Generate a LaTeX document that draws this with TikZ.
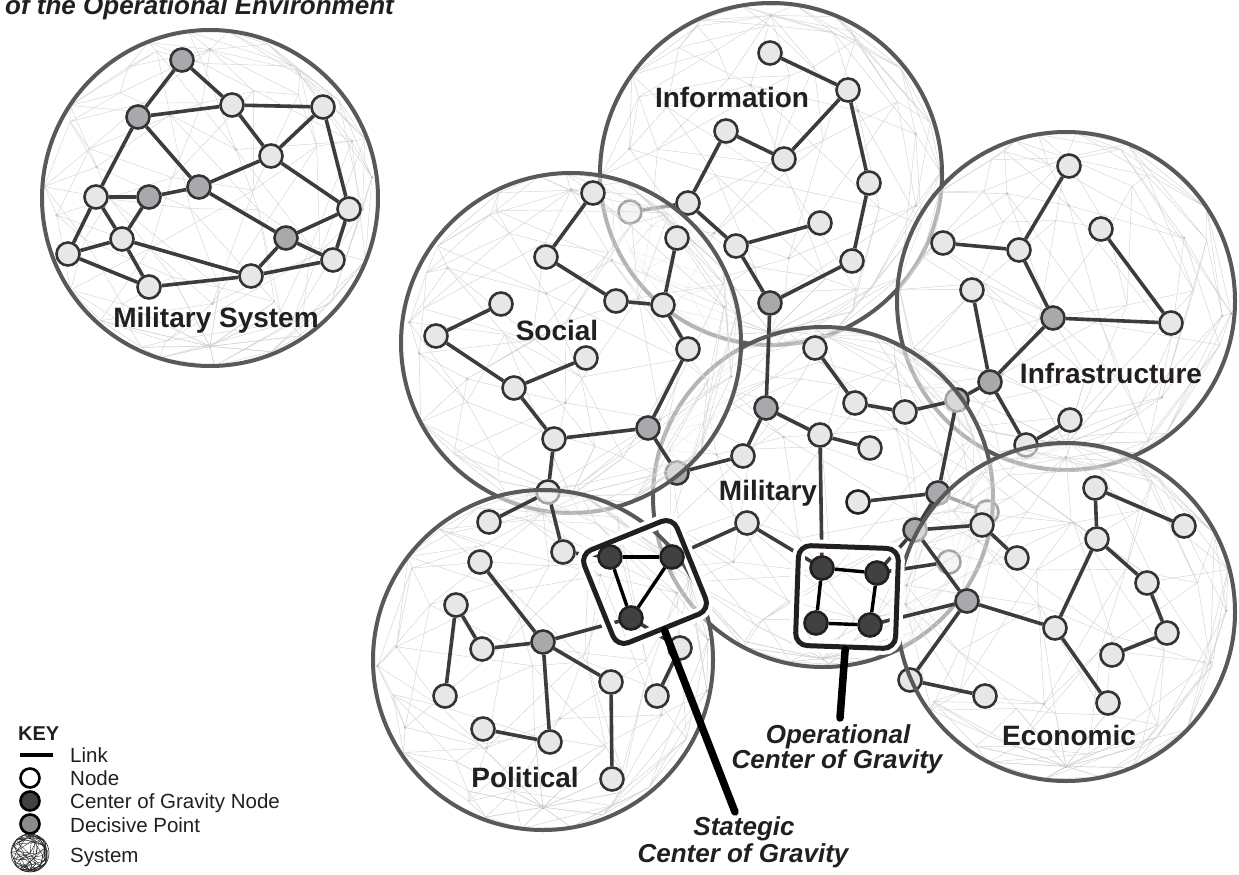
\documentclass[tikz,border=0pt]{standalone}
\usepackage{fontspec}
\setmainfont{Liberation Sans}
\definecolor{litefill}{HTML}{E6E7E8}
\definecolor{dpfill}{HTML}{A7A9AC}
\definecolor{cogfill}{HTML}{414042}
\definecolor{edgecol}{HTML}{333333}
\definecolor{linkcol}{HTML}{3C3C3C}
\definecolor{ringcol}{HTML}{58595B}
\definecolor{inkcol}{HTML}{231F20}

% wire-frame ball: centre x, centre y, radius, seed, tilt, azimuth offset
\newcommand{\meshball}[6]{%
  \pgfmathsetseed{#4}%
  \foreach \i in {0,...,6}{%
    \foreach \j in {0,...,10}{%
      \pgfmathsetmacro{\mT}{\i*30+11*rand*sin(\i*30)}%
      \pgfmathsetmacro{\mP}{\j*360/11+\i*13+#6+12*rand}%
      \pgfmathsetmacro{\mX}{#1+#3*sin(\mT)*cos(\mP)}%
      \pgfmathsetmacro{\mY}{#2+#3*(cos(\mT)*cos(#5)-sin(\mT)*sin(\mP)*sin(#5))}%
      \coordinate (q-\i-\j) at (\mX,\mY);%
      \pgfmathtruncatemacro{\mK}{mod(\i*5+\j*3,3)}%
      \ifnum\mK=0 \path[meshdot] (\mX,\mY) circle (1.5pt);\fi
    }%
  }%
  \foreach \i [evaluate=\i as \ip using {int(\i+1)}] in {0,...,5}{%
    \foreach \j [evaluate=\j as \jn using {int(mod(\j+1,11))}] in {0,...,10}{%
      \draw[meshln] (q-\i-\j) -- (q-\i-\jn) (q-\i-\j) -- (q-\ip-\j) (q-\i-\j) -- (q-\ip-\jn);%
    }%
  }%
}

\begin{document}
\begin{tikzpicture}[x=1pt,y=-1pt,
  ln/.style={circle, draw=edgecol, line width=2.6pt, fill=litefill, minimum size=23pt, inner sep=0pt},
  dn/.style={ln, fill=dpfill},
  cn/.style={ln, fill=cogfill, draw=inkcol},
  lk/.style={draw=linkcol, line width=3.6pt},
  cl/.style={draw=black, line width=3.4pt},
  ring/.style={draw=ringcol, line width=4pt},
  fader/.style={fill=white, fill opacity=0.55},
  meshln/.style={draw=black!17, line width=0.45pt},
  meshdot/.style={fill=black!32},
  syslbl/.style={font=\bfseries\fontsize{28}{30}\selectfont, text=inkcol, inner sep=0pt, anchor=base},
  coglbl/.style={font=\bfseries\itshape\fontsize{26}{28}\selectfont, text=inkcol, inner sep=0pt, anchor=base},
  keytxt/.style={font=\fontsize{20.5}{22}\selectfont, text=inkcol, inner sep=0pt, anchor=base west},
  keynode/.style={circle, draw=black, line width=2.6pt, minimum size=19pt, inner sep=0pt},
  cogbox/.style={draw=inkcol, line width=5pt, rounded corners=12pt, minimum size=100pt, inner sep=0pt},
  boxhalo/.style={draw=white, line width=13pt, rounded corners=12pt, minimum size=100pt, inner sep=0pt},
  pointer/.style={draw=black, line width=7.5pt, line cap=round}
]
\useasboundingbox (0,0) rectangle (1239,875);

% ---------- Military System (stand-alone) ----------
\meshball{210}{198}{168}{3}{28}{5}
\node[dn] (ma) at (182,60) {};
\node[ln] (mb) at (232,105) {};
\node[ln] (mc) at (323,107) {};
\node[dn] (md) at (138,117) {};
\node[ln] (me) at (271,156) {};
\node[dn] (mf) at (199,187) {};
\node[ln] (mg) at (96,197) {};
\node[dn] (mh) at (149,197) {};
\node[ln] (mi) at (349,209) {};
\node[ln] (mj) at (122,239) {};
\node[dn] (mk) at (286,238) {};
\node[ln] (ml) at (68,254) {};
\node[ln] (mm) at (333,260) {};
\node[ln] (mn) at (251,276) {};
\node[ln] (mo) at (149,287) {};
\foreach \a/\b in {ma/md,ma/mb,md/mb,mb/mc,mb/me,mc/me,mc/mi,md/mf,md/mg,me/mf,me/mi,
  mf/mh,mf/mk,mg/mh,mg/mj,mg/ml,mh/mj,mj/ml,mj/mo,mj/mn,ml/mo,mo/mn,mn/mk,mn/mm,mk/mm,mk/mi,mi/mm}
  \draw[lk] (\a) -- (\b);
\draw[ring] (210,198) circle (168pt);

% ---------- Information ----------
\fill[fader] (771,174) circle (171pt);
\meshball{771}{174}{171}{11}{22}{17}
\node[ln] (ia) at (770,53) {};
\node[ln] (ib) at (848,90) {};
\node[ln] (ic) at (726,131) {};
\node[ln] (id) at (784,159) {};
\node[ln] (ie) at (869,183) {};
\node[ln] (if) at (688,203) {};
\node[ln] (ig) at (630,212) {};
\node[ln] (ih) at (820,223) {};
\node[ln] (ii) at (736,246) {};
\node[ln] (ij) at (852,261) {};
\node[dn] (ik) at (770,303) {};
\foreach \a/\b in {ia/ib,ib/id,id/ic,ic/if,if/ig,if/ii,ii/ih,ii/ik,ik/ij,ij/ie,ie/ib}
  \draw[lk] (\a) -- (\b);
\draw[ring] (771,174) circle (171pt);

% ---------- Infrastructure ----------
\fill[fader] (1066,301) circle (169pt);
\meshball{1066}{301}{169}{23}{32}{40}
\node[ln] (fa) at (1069,166) {};
\node[ln] (fb) at (1101,229) {};
\node[ln] (fc) at (943,243) {};
\node[ln] (fd) at (1019,250) {};
\node[ln] (fe) at (972,290) {};
\node[dn] (ff) at (1053,318) {};
\node[ln] (fg) at (1171,323) {};
\node[dn] (fh) at (990,382) {};
\node[dn] (fi) at (957,400) {};
\node[ln] (fj) at (1070,420) {};
\node[ln] (fk) at (1026,445) {};
\foreach \a/\b in {fa/fd,fc/fd,fd/ff,ff/fg,fb/fg,fe/fh,ff/fh,fh/fi,fh/fk,fk/fj}
  \draw[lk] (\a) -- (\b);
\draw[ring] (1066,301) circle (169pt);

% ---------- Military ----------
\fill[fader] (823,497) circle (170pt);
\meshball{823}{497}{170}{37}{18}{63}
\node[ln] (ka) at (815,348) {};
\node[dn] (kb) at (766,408) {};
\node[ln] (kc) at (855,403) {};
\node[ln] (kd) at (905,412) {};
\node[ln] (ke) at (820,435) {};
\node[ln] (kf) at (870,448) {};
\node[ln] (kg) at (743,456) {};
\node[dn] (k0) at (677,473) {};
\node[ln, draw=inkcol] (kh) at (858,502) {};
\node[dn] (ki) at (938,493) {};
\node[ln] (kj) at (987,512) {};
\node[dn] (kk) at (915,530) {};
\node[ln] (kl) at (747,523) {};
\node[ln] (km) at (949,562) {};
\foreach \a/\b in {ka/kc,kc/kd,kd/fi,kb/ke,ke/kf,kb/kg,kg/k0,ik/kb,kh/ki,ki/fi,ki/kj,kk/ki}
  \draw[lk] (\a) -- (\b);
\draw[ring] (823,497) circle (170pt);

% ---------- Social ----------
\fill[fader] (571,343) circle (170pt);
\meshball{571}{343}{170}{51}{26}{29}
\node[ln] (sa) at (593,193) {};
\node[ln] (sb) at (546,257) {};
\node[ln] (sc) at (501,304) {};
\node[ln] (sd) at (436,336) {};
\node[ln] (se) at (616,301) {};
\node[ln] (sf) at (663,305) {};
\node[ln] (sg) at (677,238) {};
\node[ln] (sh) at (688,349) {};
\node[ln] (si) at (586,358) {};
\node[ln] (sj) at (514,388) {};
\node[ln] (sk) at (554,439) {};
\node[dn] (sl) at (648,428) {};
\node[ln] (sm) at (548,492) {};
\foreach \a/\b in {sa/sb,sb/se,se/sf,sf/sg,sf/sh,sh/sl,sl/sk,sk/sj,sj/sd,sd/sc,sj/si,sk/sm,sl/k0}
  \draw[lk] (\a) -- (\b);
\draw[ring] (571,343) circle (170pt);

% ---------- Political ----------
\fill[fader] (543,660) circle (170pt);
\meshball{543}{660}{170}{67}{30}{8}
\node[ln] (pa) at (489,522) {};
\node[ln] (pb) at (480,562) {};
\node[ln] (pc) at (563,552) {};
\node[ln] (pd) at (456,605) {};
\node[ln] (pe) at (482,649) {};
\node[dn] (pf) at (543,642) {};
\node[ln] (pg) at (445,696) {};
\node[ln] (ph) at (611,682) {};
\node[ln] (pi) at (657,696) {};
\node[ln] (pj) at (680,648) {};
\node[ln] (pk) at (483,729) {};
\node[ln] (pl) at (550,742) {};
\node[ln] (pm) at (612,779) {};
\foreach \a/\b in {pa/sm,pc/sm,pb/pf,pd/pe,pd/pg,pe/pf,pf/ph,pf/pl,pk/pl,ph/pm,pi/pj}
  \draw[lk] (\a) -- (\b);
\draw[ring] (543,660) circle (170pt);

% ---------- Economic ----------
\fill[fader] (1066,612) circle (169pt);
\meshball{1066}{612}{169}{83}{24}{51}
\node[ln] (ea) at (1095,488) {};
\node[ln] (eb) at (1184,526) {};
\node[ln] (ec) at (1097,539) {};
\node[ln] (ed) at (982,525) {};
\node[ln] (ee) at (1017,558) {};
\node[ln] (ef) at (1147,583) {};
\node[dn] (eg) at (967,601) {};
\node[ln] (eh) at (1055,628) {};
\node[ln] (ei) at (1167,633) {};
\node[ln] (ej) at (1112,655) {};
\node[ln] (ek) at (910,680) {};
\node[ln] (el) at (985,696) {};
\node[ln] (em) at (1108,703) {};
\foreach \a/\b in {ea/eb,ea/ec,ec/eh,ec/ef,ef/ei,ei/ej,eh/em,eh/eg,eg/ek,ek/el,ed/ee,kk/ed,kk/eg}
  \draw[lk] (\a) -- (\b);
\draw[ring] (1066,612) circle (169pt);

% ---------- system names ----------
\node[syslbl] (lms) at (216,327) {Military System};
\node[syslbl] (linf) at (732,107) {Information};
\node[syslbl] (lsoc) at (557,340) {Social};
\node[syslbl] (lfra) at (1111,383) {Infrastructure};
\node[syslbl] (lmil) at (768,500) {Military};
\node[syslbl] (lpol) at (525,787) {Political};
\node[syslbl] (leco) at (1069,745) {Economic};

% ---------- centres of gravity ----------
\coordinate (ca0) at (610,557);
\coordinate (cb0) at (672,557);
\coordinate (cc0) at (631,618);
\coordinate (oa0) at (822,568);
\coordinate (ob0) at (877,573);
\coordinate (oc0) at (816,623);
\coordinate (od0) at (870,625);
\foreach \a/\b in {pc/ca0,pf/cc0,cc0/pj,cb0/kl,ke/oa0,kl/oa0,ob0/kk,ob0/km,od0/eg}
  \draw[lk] (\a) -- (\b);
\node[boxhalo, rotate=22] (shalo) at (645,582) {};
\node[boxhalo, rotate=-2] (ohalo) at (847,597) {};
\node[cogbox, rotate=22] (sbox) at (645,582) {};
\node[cogbox, rotate=-2] (obox) at (847,597) {};
\node[cn] (ca) at (ca0) {};
\node[cn] (cb) at (cb0) {};
\node[cn] (cc) at (cc0) {};
\node[cn] (oa) at (oa0) {};
\node[cn] (ob) at (ob0) {};
\node[cn] (oc) at (oc0) {};
\node[cn] (od) at (od0) {};
\foreach \a/\b in {ca/cb,ca/cc,cb/cc,oa/ob,ob/od,od/oc,oc/oa}
  \draw[cl] (\a) -- (\b);

\coordinate (stip) at (735,812);
\coordinate (otip) at (840,718);
\draw[pointer] (sbox.south) -- (stip);
\draw[pointer] (obox.south) -- (otip);

\node[coglbl] (op1) at (838,743) {Operational};
\node[coglbl] (op2) at (837,768) {Center of Gravity};
\node[coglbl] (st1) at (744,835) {Stategic};
\node[coglbl] (st2) at (743,862) {Center of Gravity};

% ---------- heading ----------
\node[font=\bfseries\itshape\fontsize{26}{28}\selectfont, text=inkcol, inner sep=0pt, anchor=base west] (ttl) at (5,15) {of the Operational Environment};

% ---------- key ----------
\node[font=\bfseries\fontsize{20}{22}\selectfont, text=inkcol, inner sep=0pt, anchor=base west] (keyh) at (18,740) {KEY};
\coordinate (kl1) at (20,755);
\coordinate (kl2) at (53,755);
\draw[draw=black, line width=3.5pt] (kl1) -- (kl2);
\node[keynode, fill=white] (kn1) at (30,778) {};
\node[keynode, fill=cogfill] (kn2) at (30,801) {};
\node[keynode, fill=black!45] (kn3) at (30,824) {};
\begin{scope}[meshln/.style={draw=black!85, line width=0.4pt}, meshdot/.style={fill=none}]
  \meshball{30}{853}{19}{5}{25}{10}
  \draw[draw=black!85, line width=0.6pt] (30,853) circle (19pt);
\end{scope}
\node[keytxt] (kt1) at (70,762) {Link};
\node[keytxt] (kt2) at (70,785) {Node};
\node[keytxt] (kt3) at (70,808) {Center of Gravity Node};
\node[keytxt] (kt4) at (70,832) {Decisive Point};
\node[keytxt] (kt5) at (70,862) {System};
\end{tikzpicture}
\end{document}
